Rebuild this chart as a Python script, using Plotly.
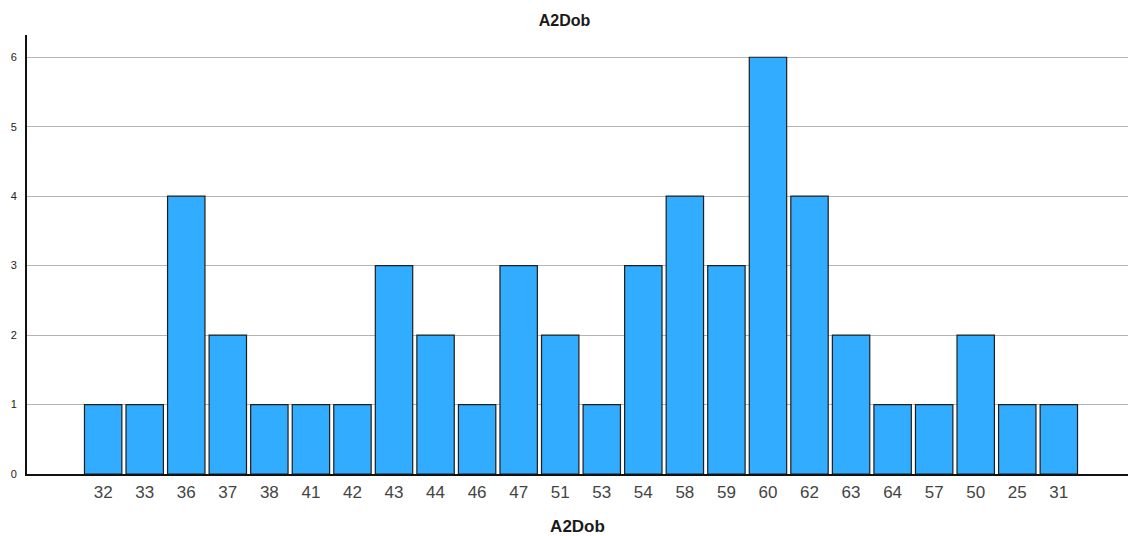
import plotly.graph_objects as go

categories = ["32", "33", "36", "37", "38", "41", "42", "43", "44", "46", "47", "51",
              "53", "54", "58", "59", "60", "62", "63", "64", "57", "50", "25", "31"]
counts = [1, 1, 4, 2, 1, 1, 1, 3, 2, 1, 3, 2, 1, 3, 4, 3, 6, 4, 2, 1, 1, 2, 1, 1]
y_ticks = [0, 1, 2, 3, 4, 5, 6]
title_text = "A2Dob"

fig = go.Figure(go.Bar(
    x=categories, y=counts,
    marker=dict(color="#32acff", line=dict(color="#1e1e1e", width=1.2)),
))

fig.update_layout(
    width=1129, height=536,
    margin=dict(l=27, r=1, t=35, b=62, autoexpand=False),
    paper_bgcolor="white", plot_bgcolor="white",
    bargap=0.1,
    showlegend=False,
    font=dict(family="Liberation Sans, Arial, sans-serif"),
    title=dict(text="<b>" + title_text + "</b>", x=0.5, xanchor="center",
               y=1 - 20 / 536, yanchor="middle",
               font=dict(size=16, color="#1a1a1a")),
)

fig.update_xaxes(
    type="category", categoryorder="array", categoryarray=categories,
    range=[-1.833, 24.665], automargin=False,
    showline=True, linecolor="#111", linewidth=1.5,
    showgrid=False, ticks="", zeroline=False, ticklabelstandoff=2,
    tickfont=dict(size=17, color="#444"),
    title=dict(text="<b>" + title_text + "</b>", standoff=19,
               font=dict(size=17, color="#1a1a1a")),
)

fig.update_yaxes(
    range=[0, 6.32], tickvals=y_ticks, automargin=False,
    showline=True, linecolor="#111", linewidth=2,
    showgrid=True, gridcolor="#b4b4b4", gridwidth=1,
    zeroline=False, ticks="", ticklabelstandoff=6,
    tickfont=dict(size=11, color="#222"),
)

fig.write_html("out.html", config={"displayModeBar": False},
               post_script="document.body.style.margin='0';document.body.style.overflow='hidden';")
